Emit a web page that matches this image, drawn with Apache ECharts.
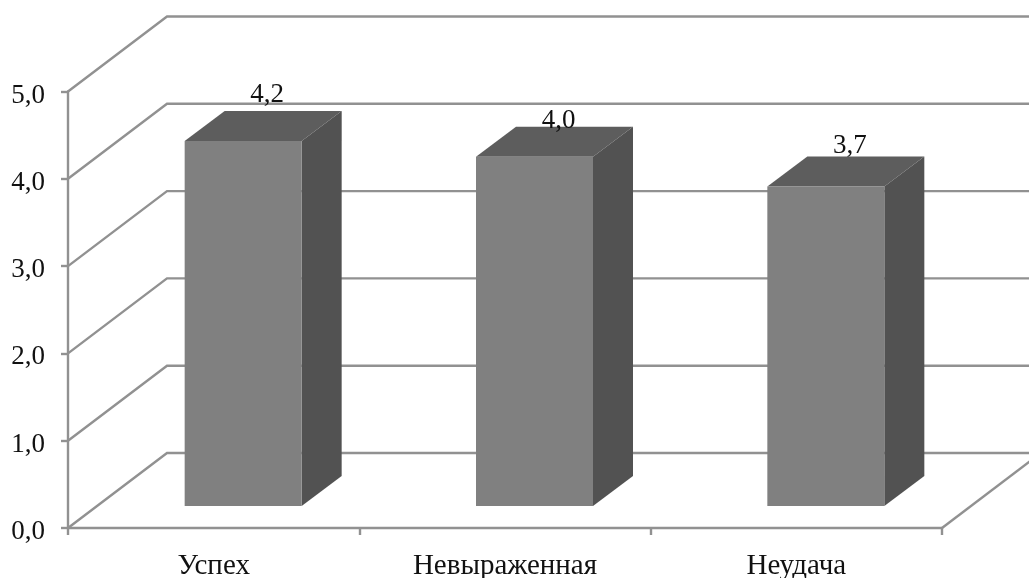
<!DOCTYPE html>
<html>
<head>
<meta charset="utf-8">
<style>html,body{margin:0;padding:0;background:#fff}#c{width:1029px;height:578px}</style>
<script src="https://cdn.jsdelivr.net/npm/echarts@6/dist/echarts.min.js"></script>
</head>
<body>
<div id="c"></div>
<script>
const categories = ['Успех', 'Невыраженная', 'Неудача'];
const values = [4.18, 4.0, 3.66];
const wallTicks = [0, 1, 2, 3, 4, 5];

const FONT = '"Liberation Serif","Times New Roman",serif';
const VALUE_SIZE = 27, CATEGORY_SIZE = 29;
const LINE = '#919191', LINE_W = 2.4;
const WALL_DX = 99, WALL_DY = -75;
const BAR_DX = 40, BAR_DY = -30;
const BAR_FLOAT = 22, BAR_SHIFT = 29.5, BAR_W = 117;
const LABEL_DX = 24, LABEL_LIFT = [16, 6, 11];

const fmt = v => v.toFixed(1).replace('.', ',');
const chart = echarts.init(document.getElementById('c'), null, {renderer: 'canvas'});

function wallItem(params, api) {
  const cs = params.coordSys;
  const y = api.coord([0, api.value(0)])[1];
  const pts = [[cs.x, y], [cs.x + WALL_DX, y + WALL_DY], [cs.x + cs.width + WALL_DX, y + WALL_DY]];
  const children = [{
    type: 'polyline',
    shape: {points: pts},
    style: {stroke: LINE, lineWidth: LINE_W, fill: 'none'}
  }];
  if (api.value(0) === 0) {
    children.push({
      type: 'line',
      shape: {x1: cs.x + cs.width, y1: y, x2: cs.x + cs.width + WALL_DX, y2: y + WALL_DY},
      style: {stroke: LINE, lineWidth: LINE_W}
    });
  }
  return {type: 'group', children: children, silent: true};
}

function barItem(params, api) {
  const i = api.value(0);
  const v = api.value(1);
  const c = api.coord([i, v]);
  const base = api.coord([i, 0])[1] - BAR_FLOAT;
  const top = c[1] - BAR_FLOAT;
  const l = c[0] + BAR_SHIFT - BAR_W / 2;
  const r = l + BAR_W;
  return {
    type: 'group',
    children: [
      {type: 'polygon', shape: {points: [[l, top], [l + BAR_DX, top + BAR_DY], [r + BAR_DX, top + BAR_DY], [r, top]]},
        style: {fill: '#5d5d5d'}},
      {type: 'polygon', shape: {points: [[r, top], [r + BAR_DX, top + BAR_DY], [r + BAR_DX, base + BAR_DY], [r, base]]},
        style: {fill: '#525252'}},
      {type: 'rect', shape: {x: l, y: top, width: BAR_W, height: base - top},
        style: {fill: '#808080'}},
      {type: 'text', style: {
        text: fmt(v), x: c[0] + BAR_SHIFT + LABEL_DX, y: top + BAR_DY - LABEL_LIFT[params.dataIndex],
        font: VALUE_SIZE + 'px ' + FONT, fill: '#111', align: 'center', verticalAlign: 'middle'
      }, z2: 10}
    ]
  };
}

chart.setOption({
  animation: false,
  backgroundColor: '#fff',
  grid: {left: 68, right: 87, top: 91.5, bottom: 50, containLabel: false, outerBoundsMode: 'none'},
  xAxis: {
    type: 'category',
    data: categories,
    axisLine: {lineStyle: {color: LINE, width: LINE_W}},
    axisTick: {show: true, length: 7, lineStyle: {color: LINE, width: LINE_W}},
    axisLabel: {fontFamily: FONT, fontSize: CATEGORY_SIZE, color: '#111', margin: 24, interval: 0},
    splitLine: {show: false}
  },
  yAxis: {
    type: 'value',
    min: 0, max: 5, interval: 1,
    axisLine: {show: true, lineStyle: {color: LINE, width: LINE_W}},
    axisTick: {show: true, length: 7, lineStyle: {color: LINE, width: LINE_W}},
    axisLabel: {fontFamily: FONT, fontSize: VALUE_SIZE, color: '#111', margin: 23, verticalAlign: 'top', lineHeight: 8, formatter: fmt},
    splitLine: {show: false}
  },
  series: [
    {type: 'custom', renderItem: wallItem, data: wallTicks.map(v => [v]), encode: {y: 0}, z: 1, silent: true},
    {type: 'custom', renderItem: barItem, data: values.map((v, i) => [i, v]), encode: {x: 0, y: 1}, z: 3, silent: true}
  ]
});
</script>
</body>
</html>
